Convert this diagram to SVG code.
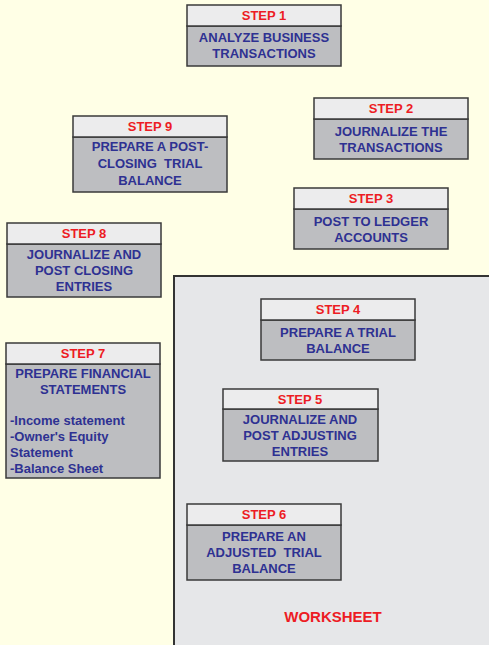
<svg xmlns="http://www.w3.org/2000/svg" width="489" height="645" viewBox="0 0 489 645">
<style>
.hd{fill:#ececed;stroke:#3a3a3a;stroke-width:1.5}
.bd{fill:#bdbec1;stroke:#3a3a3a;stroke-width:1.5}
text{font-family:"Liberation Sans",Arial,sans-serif;font-weight:bold;font-size:13px}
.r{fill:#ed1c24;text-anchor:middle}
.b{fill:#2e3192;text-anchor:middle}
.l{fill:#2e3192}
</style>
<rect x="0" y="0" width="489" height="645" fill="#ffffe6"/>
<g id="worksheet">
<rect x="174" y="276" width="320" height="375" fill="#e6e7e9" stroke="#333" stroke-width="2"/>
<text x="333" y="622" class="r" style="font-size:15px">WORKSHEET</text>
</g>
<g id="connectors"></g>
<g id="step1">
<rect class="bd" x="187" y="26" width="154" height="40"/>
<rect class="hd" x="187" y="5" width="154" height="21"/>
<text class="r" x="264" y="20">STEP 1</text>
<text class="b" x="264" y="42">ANALYZE BUSINESS</text>
<text class="b" x="264" y="58">TRANSACTIONS</text>
</g>
<g id="step2">
<rect class="bd" x="314" y="119" width="154" height="40"/>
<rect class="hd" x="314" y="98" width="154" height="21"/>
<text class="r" x="391" y="113">STEP 2</text>
<text class="b" x="391" y="136">JOURNALIZE THE</text>
<text class="b" x="391" y="152">TRANSACTIONS</text>
</g>
<g id="step3">
<rect class="bd" x="294" y="209" width="154" height="40"/>
<rect class="hd" x="294" y="188" width="154" height="21"/>
<text class="r" x="371" y="203">STEP 3</text>
<text class="b" x="371" y="226">POST TO LEDGER</text>
<text class="b" x="371" y="242">ACCOUNTS</text>
</g>
<g id="step4">
<rect class="bd" x="261" y="320" width="154" height="40"/>
<rect class="hd" x="261" y="299" width="154" height="21"/>
<text class="r" x="338" y="314">STEP 4</text>
<text class="b" x="338" y="337">PREPARE A TRIAL</text>
<text class="b" x="338" y="353">BALANCE</text>
</g>
<g id="step5">
<rect class="bd" x="223" y="409" width="155" height="52"/>
<rect class="hd" x="223" y="389" width="155" height="20"/>
<text class="r" x="300" y="404">STEP 5</text>
<text class="b" x="300" y="424">JOURNALIZE AND</text>
<text class="b" x="300" y="440">POST ADJUSTING</text>
<text class="b" x="300" y="456">ENTRIES</text>
</g>
<g id="step6">
<rect class="bd" x="187" y="525" width="154" height="55"/>
<rect class="hd" x="187" y="504" width="154" height="21"/>
<text class="r" x="264" y="519">STEP 6</text>
<text class="b" x="264" y="541">PREPARE AN</text>
<text class="b" x="264" y="557" xml:space="preserve">ADJUSTED  TRIAL</text>
<text class="b" x="264" y="573">BALANCE</text>
</g>
<g id="step7">
<rect class="bd" x="6" y="364" width="154" height="114"/>
<rect class="hd" x="6" y="343" width="154" height="21"/>
<text class="r" x="83" y="358">STEP 7</text>
<text class="b" x="83" y="378">PREPARE FINANCIAL</text>
<text class="b" x="83" y="394">STATEMENTS</text>
<text class="l" x="10" y="425">-Income statement</text>
<text class="l" x="10" y="441">-Owner's Equity</text>
<text class="l" x="10" y="457">Statement</text>
<text class="l" x="10" y="473">-Balance Sheet</text>
</g>
<g id="step8">
<rect class="bd" x="7" y="244" width="154" height="53"/>
<rect class="hd" x="7" y="223" width="154" height="21"/>
<text class="r" x="84" y="238">STEP 8</text>
<text class="b" x="84" y="259">JOURNALIZE AND</text>
<text class="b" x="84" y="275">POST CLOSING</text>
<text class="b" x="84" y="291">ENTRIES</text>
</g>
<g id="step9">
<rect class="bd" x="73" y="137" width="154" height="55"/>
<rect class="hd" x="73" y="116" width="154" height="21"/>
<text class="r" x="150" y="131">STEP 9</text>
<text class="b" x="150" y="151">PREPARE A POST-</text>
<text class="b" x="150" y="168" xml:space="preserve">CLOSING  TRIAL</text>
<text class="b" x="150" y="185">BALANCE</text>
</g>
</svg>
